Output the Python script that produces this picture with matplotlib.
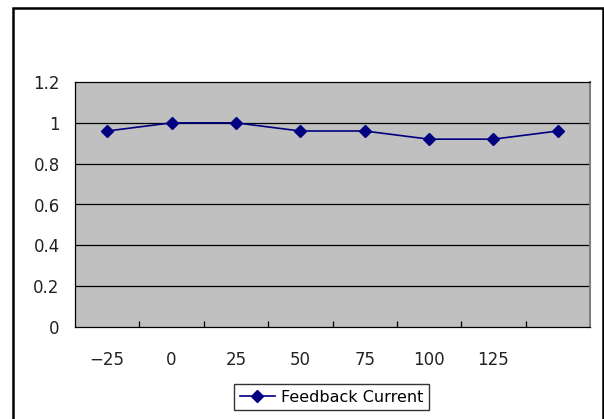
import matplotlib
matplotlib.use("Agg")
import matplotlib.pyplot as plt
from matplotlib.patches import Rectangle
import numpy as np

categories = ["-25", "0", "25", "50", "75", "100", "125", ""]
values = [0.96, 1.0, 1.0, 0.96, 0.96, 0.92, 0.92, 0.96]
series_name = "Feedback Current"
yticks = [0, 0.2, 0.4, 0.6, 0.8, 1.0, 1.2]
ytick_labels = ["0", "0.2", "0.4", "0.6", "0.8", "1", "1.2"]

plt.rcParams['font.family'] = ['DejaVu Sans']
plt.rcParams['axes.unicode_minus'] = True

fig = plt.figure(figsize=(6.04, 4.19), dpi=100)
ax = fig.add_axes([75/604, 1-327/419, (590-75)/604, (327-82)/419])
ax.set_facecolor('#C0C0C0')

x = np.arange(len(categories))
ax.plot(x, values, color='#000080', marker='D', markersize=6, linewidth=1.2,
        label=series_name, zorder=3)

ax.set_xlim(-0.5, len(categories) - 0.5)
ax.set_ylim(0, 1.2)
ax.set_yticks(yticks)
ax.set_yticklabels(ytick_labels)
for yv in yticks[1:-1]:
    ax.axhline(yv, color='black', linewidth=0.9, zorder=1)

labels = [c.replace('-', '\u2212') for c in categories]
ax.set_xticks(x)
ax.set_xticklabels(labels)
ax.set_xticks(np.arange(0.5, len(categories) - 0.5, 1.0), minor=True)
ax.tick_params(axis='x', which='major', length=0, pad=17, labelsize=12, colors='#222222')
ax.tick_params(axis='x', which='minor', length=4, direction='in', width=0.9)
ax.tick_params(axis='y', length=0, pad=11, labelsize=12, colors='#222222')

for side in ['left', 'bottom', 'top']:
    ax.spines[side].set_color('black')
    ax.spines[side].set_linewidth(0.9)
ax.spines['right'].set_color('#808080')
ax.spines['right'].set_linewidth(1.5)

leg = fig.legend(loc='center', bbox_to_anchor=(331.5/604, 1-397/419), frameon=True,
                 fancybox=False, edgecolor='black', fontsize=11.5, handlelength=2.2,
                 borderpad=0.35, handletextpad=0.4)
leg.get_frame().set_linewidth(1.0)

border = Rectangle((13/604, -0.05), (603-13)/604, (1-8/419)+0.05, transform=fig.transFigure,
                   fill=False, edgecolor='black', linewidth=1.8)
fig.patches.append(border)

fig.savefig('out.png', dpi=100)
